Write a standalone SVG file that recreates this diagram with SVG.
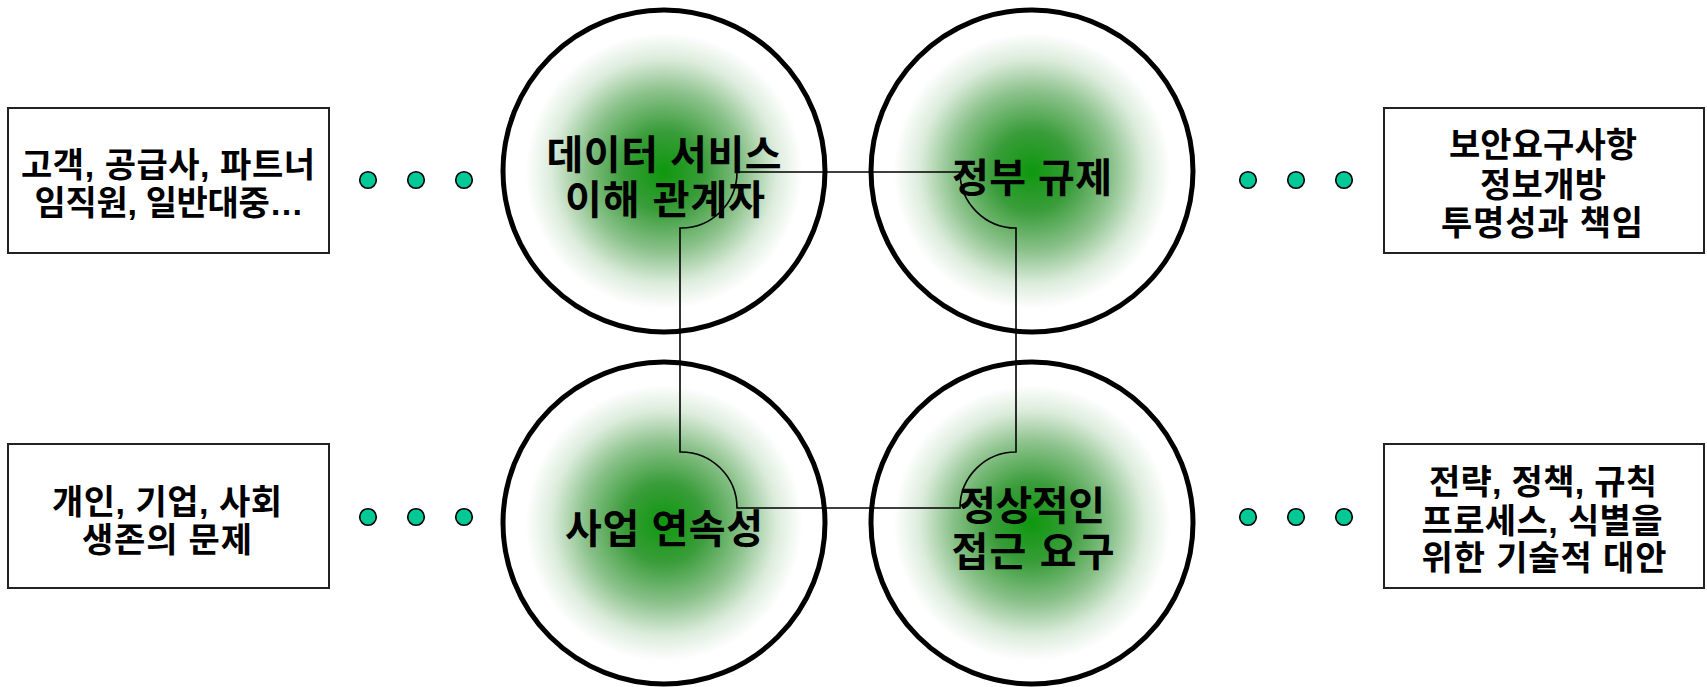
<svg xmlns="http://www.w3.org/2000/svg" width="1707" height="687" viewBox="0 0 1707 687">
<defs>
<radialGradient id="g" cx="0.5" cy="0.5" r="0.5">
<stop offset="0" stop-color="#0e980e"/>
<stop offset="0.25" stop-color="#3a9d3a"/>
<stop offset="0.5" stop-color="#8cc28c"/>
<stop offset="0.7" stop-color="#dcecdc"/>
<stop offset="0.86" stop-color="#ffffff"/>
<stop offset="1" stop-color="#ffffff"/>
</radialGradient>
<style>
.c{fill:url(#g);stroke:#000;stroke-width:5}
.b{fill:#fff;stroke:#222;stroke-width:2}
.d{fill:#00c896;stroke:#000;stroke-width:1.6}
.t{font-family:"Liberation Sans","Noto Sans CJK KR",sans-serif;font-weight:bold;fill:#000;text-anchor:middle}
.big{font-size:40px}
.sm{font-size:34px}
.conn{fill:none;stroke:#000;stroke-width:1.6}
</style>
</defs>
<rect width="1707" height="687" fill="#fff"/>
<g id="circle-stakeholders"><circle class="c" cx="664" cy="171" r="161"/></g>
<g id="circle-regulation"><circle class="c" cx="1032" cy="171" r="161"/></g>
<g id="circle-continuity"><circle class="c" cx="664" cy="523" r="161"/></g>
<g id="circle-access"><circle class="c" cx="1032" cy="523" r="161"/></g>
<g id="connectors">
<path class="conn" d="M737,172 H960 A56,56 0 0 0 1016,228 V452 A56,56 0 0 0 960,508 H737 A56,56 0 0 0 680,452 V228 A56,56 0 0 0 737,172 Z"/>
</g>
<g id="label-stakeholders"><text class="t big" x="664" y="169" textLength="235" lengthAdjust="spacing">데이터 서비스</text><text class="t big" x="665" y="214" textLength="200" lengthAdjust="spacing">이해 관계자</text></g>
<g id="label-regulation"><text class="t big" x="1032" y="192" textLength="160" lengthAdjust="spacing">정부 규제</text></g>
<g id="label-continuity"><text class="t big" x="664" y="543" textLength="198" lengthAdjust="spacing">사업 연속성</text></g>
<g id="label-access"><text class="t big" x="1032" y="520" textLength="146" lengthAdjust="spacing">정상적인</text><text class="t big" x="1033" y="566" textLength="163" lengthAdjust="spacing">접근 요구</text></g>
<g id="box-tl"><rect class="b" x="8" y="108" width="321" height="145"/>
<text class="t sm" x="168" y="177" textLength="294" lengthAdjust="spacing">고객, 공급사, 파트너</text>
<text class="t sm" x="169" y="215" textLength="269" lengthAdjust="spacing">임직원, 일반대중…</text></g>
<g id="dots-tl"><circle class="d" cx="368" cy="180" r="8.3"/><circle class="d" cx="416" cy="180" r="8.3"/><circle class="d" cx="464" cy="180" r="8.3"/></g>
<g id="box-tr"><rect class="b" x="1384" y="108" width="320" height="145"/>
<text class="t sm" x="1543" y="157" textLength="188" lengthAdjust="spacing">보안요구사항</text>
<text class="t sm" x="1543" y="197" textLength="126" lengthAdjust="spacing">정보개방</text>
<text class="t sm" x="1542" y="235" textLength="202" lengthAdjust="spacing">투명성과 책임</text></g>
<g id="dots-tr"><circle class="d" cx="1248" cy="180" r="8.3"/><circle class="d" cx="1296" cy="180" r="8.3"/><circle class="d" cx="1344" cy="180" r="8.3"/></g>
<g id="box-bl"><rect class="b" x="8" y="444" width="321" height="144"/>
<text class="t sm" x="167" y="514" textLength="230" lengthAdjust="spacing">개인, 기업, 사회</text>
<text class="t sm" x="167" y="552" textLength="170" lengthAdjust="spacing">생존의 문제</text></g>
<g id="dots-bl"><circle class="d" cx="368" cy="517" r="8.3"/><circle class="d" cx="416" cy="517" r="8.3"/><circle class="d" cx="464" cy="517" r="8.3"/></g>
<g id="box-br"><rect class="b" x="1384" y="444" width="320" height="144"/>
<text class="t sm" x="1543" y="494" textLength="228" lengthAdjust="spacing">전략, 정책, 규칙</text>
<text class="t sm" x="1542" y="533" textLength="241" lengthAdjust="spacing">프로세스, 식별을</text>
<text class="t sm" x="1544" y="570" textLength="245" lengthAdjust="spacing">위한 기술적 대안</text></g>
<g id="dots-br"><circle class="d" cx="1248" cy="517" r="8.3"/><circle class="d" cx="1296" cy="517" r="8.3"/><circle class="d" cx="1344" cy="517" r="8.3"/></g>
</svg>
